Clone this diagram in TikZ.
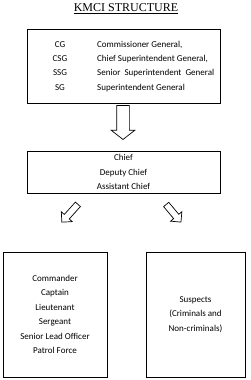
\documentclass[tikz,border=0pt]{standalone}
\usepackage{fontspec}
\setmainfont{Carlito}
\newfontfamily\titlefont{Liberation Serif}
\usepackage{tikz}
\usetikzlibrary{positioning, shapes.arrows}

\begin{document}
\begin{tikzpicture}[
    x=1pt, y=1pt,
    box/.style={rectangle, draw, line width=0.8pt, align=center,
                font=\fontsize{9}{14.5}\selectfont},
    lbl/.style={inner sep=0pt, font=\fontsize{9}{14.5}\selectfont},
    blockarr/.style={single arrow, draw, line width=0.7pt, inner xsep=0pt,
                     single arrow head extend=#1},
]
    \useasboundingbox (0,0) rectangle (250,-380);

    % ── Title ──
    \node[font=\titlefont\fontsize{12}{14}\selectfont] (title) at (126,-8.5)
        {\underline{KMCI STRUCTURE}};

    % ── Top ranks ──
    \node[box, minimum width=193, minimum height=74] (top) at (123.5,-66) {};
    \node[lbl] (cg)  at (60,-45) {CG};
    \node[lbl] (csg) at (60,-59) {CSG};
    \node[lbl] (ssg) at (60,-73) {SSG};
    \node[lbl] (sg)  at (60,-88) {SG};
    \node[lbl, anchor=west] (cgname)  at (97,-45) {Commissioner General,};
    \node[lbl, anchor=west] (csgname) at (97,-59) {Chief Superintendent General,};
    \node[lbl, anchor=west] (ssgname) at (97,-73) {Senior\ \ Superintendent\ \ General};
    \node[lbl, anchor=west] (sgname)  at (97,-88) {Superintendent\ General};

    % ── Down arrow ──
    \node[blockarr=5.5pt, inner ysep=6pt, single arrow tip angle=104,
          minimum height=34, rotate=-90] (down) at (123,-120) {};

    % ── Chiefs ──
    \node[box, minimum width=193, minimum height=42] (chief) at (123.5,-172)
        {Chief\\Deputy Chief\\Assistant Chief};

    % ── Split arrows ──
    \node[blockarr=4pt, inner ysep=3pt, minimum height=24, rotate=228]
        (leftarr) at (71,-212) {};
    \node[blockarr=4pt, inner ysep=3pt, minimum height=23, rotate=-50]
        (rightarr) at (172.5,-212) {};

    % ── Officers ──
    \node[box, minimum width=104, minimum height=125] (officers) at (55,-314.5)
        {Commander\\Captain\\Lieutenant\\Sergeant\\Senior Lead Officer\\Patrol Force};

    % ── Suspects ──
    \node[box, minimum width=99, minimum height=125] (suspects) at (195.5,-314.5)
        {Suspects\\(Criminals and\\Non-criminals)};

\end{tikzpicture}
\end{document}
